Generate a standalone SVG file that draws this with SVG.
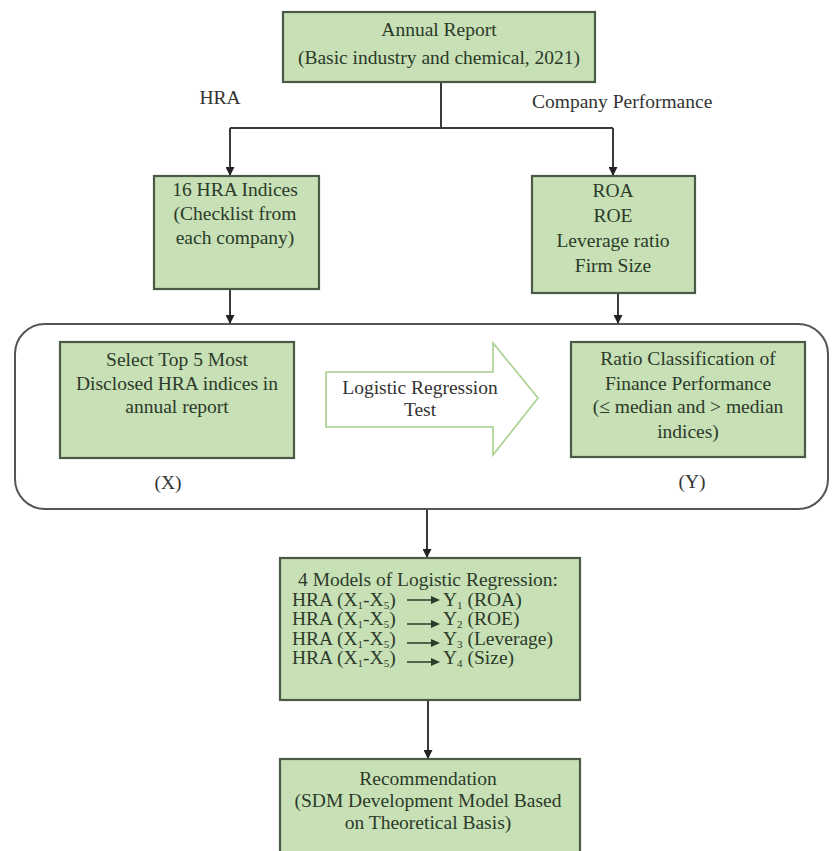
<svg xmlns="http://www.w3.org/2000/svg" width="834" height="851" viewBox="0 0 834 851" font-family="'Liberation Serif', 'Times New Roman', 'DejaVu Serif', serif">
<style>
.box{fill:#c7e0b5;stroke:#4b5a47;stroke-width:2.2}
.t{font-family:'Liberation Serif','Times New Roman','DejaVu Serif',serif;font-size:19.5px;fill:#2c3a2a;text-anchor:middle}
.l{text-anchor:start}
.w{fill:#333}
.c{fill:none;stroke:#3a3a3a;stroke-width:2}
.s{font-size:11px}
</style>
<defs>
<marker id="ah" viewBox="0 0 10 10" refX="10" refY="5" markerWidth="4.5" markerHeight="4.5" orient="auto" markerUnits="strokeWidth">
<path d="M0,0 L10,5 L0,10 z" fill="#222"/>
</marker>
</defs>
<rect width="834" height="851" fill="#ffffff"/>

<g id="connectors">
<path class="c" d="M441,82 V128 M230,128 H613"/>
<path class="c" d="M230,128 V176" marker-end="url(#ah)"/>
<path class="c" d="M613,128 V176" marker-end="url(#ah)"/>
<path class="c" d="M230,289 V324" marker-end="url(#ah)"/>
<path class="c" d="M618,293 V324" marker-end="url(#ah)"/>
<path class="c" d="M427,509 V558" marker-end="url(#ah)"/>
<path class="c" d="M428,700 V759" marker-end="url(#ah)"/>
</g>

<g id="label-hra"><text class="t w" x="220" y="104">HRA</text></g>
<g id="label-company"><text class="t l w" x="532" y="108">Company Performance</text></g>

<g id="annual-report">
<rect class="box" x="283" y="12" width="312" height="70"/>
<text class="t" x="439" y="36">Annual Report</text>
<text class="t" x="439" y="64">(Basic industry and chemical, 2021)</text>
</g>

<g id="hra-indices">
<rect class="box" x="154" y="176" width="165" height="113"/>
<text class="t" x="235" y="196">16 HRA Indices</text>
<text class="t" x="235" y="220">(Checklist from</text>
<text class="t" x="235" y="244">each company)</text>
</g>

<g id="performance">
<rect class="box" x="532" y="176" width="163" height="117"/>
<text class="t" x="613" y="197">ROA</text>
<text class="t" x="613" y="222">ROE</text>
<text class="t" x="613" y="247">Leverage ratio</text>
<text class="t" x="613" y="272">Firm Size</text>
</g>

<g id="analysis-frame">
<rect x="15" y="324" width="813" height="185" rx="30" ry="30" fill="none" stroke="#555" stroke-width="2"/>
</g>

<g id="select-top5">
<rect class="box" x="60" y="342" width="234" height="116"/>
<text class="t" x="177" y="366">Select Top 5 Most</text>
<text class="t" x="177" y="390">Disclosed HRA indices in</text>
<text class="t" x="177" y="413">annual report</text>
<text class="t w" x="168" y="489">(X)</text>
</g>

<g id="logistic-test">
<polygon points="326,372 493,372 493,343 538,398 493,455 493,427 326,427" fill="#ffffff" stroke="#a8cf8c" stroke-width="1.6"/>
<text class="t w" x="420" y="394">Logistic Regression</text>
<text class="t w" x="420" y="416">Test</text>
</g>

<g id="ratio-classification">
<rect class="box" x="571" y="342" width="234" height="115"/>
<text class="t" x="688" y="365">Ratio Classification of</text>
<text class="t" x="688" y="390">Finance Performance</text>
<text class="t" x="688" y="413">(≤ median and &gt; median</text>
<text class="t" x="688" y="438">indices)</text>
<text class="t w" x="692" y="488">(Y)</text>
</g>

<g id="models">
<rect class="box" x="280" y="558" width="300" height="142"/>
<text class="t" x="428" y="586">4 Models of Logistic Regression:</text>
<text class="t l" x="292" y="606">HRA (X<tspan class="s" dy="3">1</tspan><tspan dy="-3">-X</tspan><tspan class="s" dy="3">5</tspan><tspan dy="-3">)</tspan></text>
<text class="t l" x="292" y="625">HRA (X<tspan class="s" dy="3">1</tspan><tspan dy="-3">-X</tspan><tspan class="s" dy="3">5</tspan><tspan dy="-3">)</tspan></text>
<text class="t l" x="292" y="645">HRA (X<tspan class="s" dy="3">1</tspan><tspan dy="-3">-X</tspan><tspan class="s" dy="3">5</tspan><tspan dy="-3">)</tspan></text>
<text class="t l" x="292" y="664">HRA (X<tspan class="s" dy="3">1</tspan><tspan dy="-3">-X</tspan><tspan class="s" dy="3">5</tspan><tspan dy="-3">)</tspan></text>
<path d="M407,600 H438 M407,624 H438 M407,643 H438 M407,662 H438" fill="none" stroke="#2c3a2a" stroke-width="1.5"/>
<path d="M440,600 l-9,-4 v8 z M440,624 l-9,-4 v8 z M440,643 l-9,-4 v8 z M440,662 l-9,-4 v8 z" fill="#2c3a2a"/>
<text class="t l" x="443" y="606">Y<tspan class="s" dy="3">1</tspan><tspan dy="-3"> (ROA)</tspan></text>
<text class="t l" x="443" y="625">Y<tspan class="s" dy="3">2</tspan><tspan dy="-3"> (ROE)</tspan></text>
<text class="t l" x="443" y="645">Y<tspan class="s" dy="3">3</tspan><tspan dy="-3"> (Leverage)</tspan></text>
<text class="t l" x="443" y="664">Y<tspan class="s" dy="3">4</tspan><tspan dy="-3"> (Size)</tspan></text>
</g>

<g id="recommendation">
<rect class="box" x="280" y="759" width="300" height="100"/>
<text class="t" x="428" y="785">Recommendation</text>
<text class="t" x="428" y="807">(SDM Development Model Based</text>
<text class="t" x="428" y="829">on Theoretical Basis)</text>
</g>
</svg>
